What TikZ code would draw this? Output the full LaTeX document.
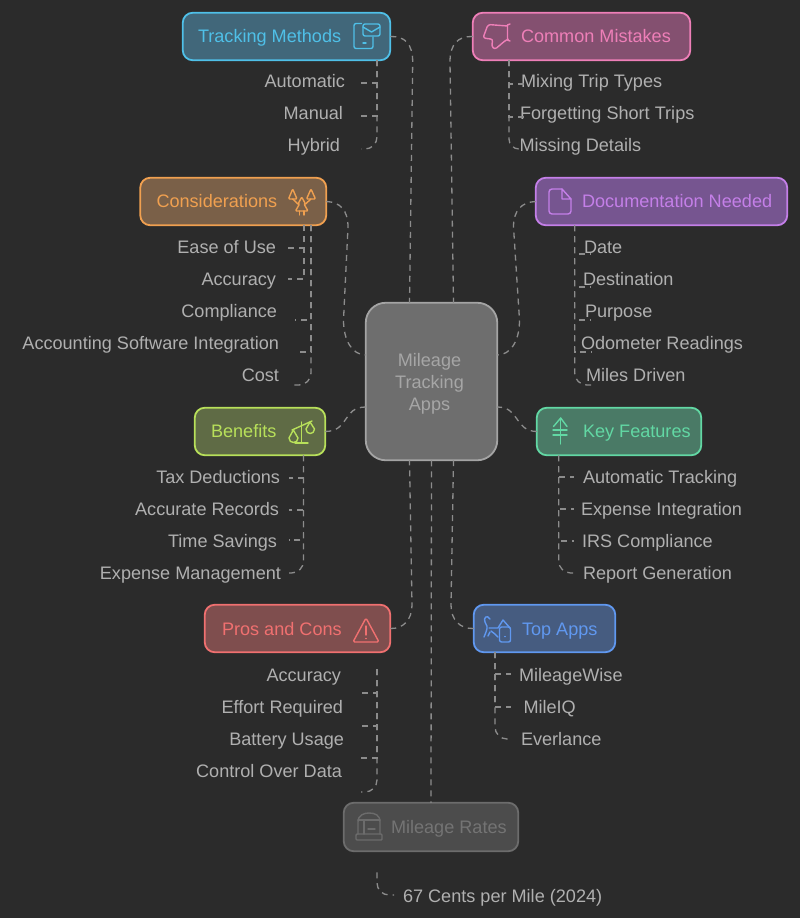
\documentclass[tikz,border=0pt]{standalone}
\usepackage{fontspec}
\setmainfont{Liberation Sans}
\definecolor{bgc}{HTML}{2B2B2B}
\definecolor{kidc}{HTML}{B0B0B0}
\definecolor{connc}{HTML}{8C8C8C}
\definecolor{cTM}{HTML}{4FC0E8}\definecolor{fTM}{HTML}{41677A}
\definecolor{cCO}{HTML}{F0A050}\definecolor{fCO}{HTML}{7A6048}
\definecolor{cCM}{HTML}{EE7FB8}\definecolor{fCM}{HTML}{845070}
\definecolor{cDN}{HTML}{C47FE8}\definecolor{fDN}{HTML}{765590}
\definecolor{cBE}{HTML}{B8E05A}\definecolor{fBE}{HTML}{5F6B45}
\definecolor{cKF}{HTML}{62D8A4}\definecolor{fKF}{HTML}{4A7A66}
\definecolor{cPC}{HTML}{F07070}\definecolor{fPC}{HTML}{7F4E4E}
\definecolor{cTA}{HTML}{6098F0}\definecolor{fTA}{HTML}{465C80}
\definecolor{cMR}{HTML}{6C6C6C}\definecolor{fMR}{HTML}{4C4C4C}
\definecolor{tMR}{HTML}{747474}
\definecolor{cHU}{HTML}{A4A4A4}\definecolor{fHU}{HTML}{6E6E6E}
\definecolor{tHU}{HTML}{A6A6A6}
\tikzset{
  box/.style={inner sep=0pt,outer sep=0pt,rounded corners=10pt,line width=1.8pt},
  txt/.style={inner sep=0pt,outer sep=0pt,text height=13.5pt,text depth=4.5pt,font=\fontsize{18.1}{22}\selectfont},
  kid/.style={txt,text=kidc},
  conn/.style={draw=connc,line width=1.3pt,dash pattern=on 6pt off 5pt},
  icon/.style={line width=1.4pt,line join=round,line cap=round,fill=none},
}
\newcommand{\tie}[7][]{%
  \coordinate (e) at ([shift={(#6pt,#7pt)}]#5);
  \coordinate (s) at ([xshift=#3pt,yshift=#4pt]#2.south);
  \draw[conn,#1] (s) -- (s |- e) -- (e);}
\begin{document}
\begin{tikzpicture}[x=1pt,y=-1pt]
\fill[bgc] (0,0) rectangle (800,918);
\useasboundingbox (0,0) rectangle (800,918);
% boxes
\node[box,draw=cTM,fill=fTM,minimum width=207.5pt,minimum height=47.5pt] (tm) at (286.5,36.5) {};
\node[box,draw=cCO,fill=fCO,minimum width=186pt,minimum height=47.5pt] (co) at (233.25,201.5) {};
\node[box,draw=cCM,fill=fCM,minimum width=217.5pt,minimum height=47.5pt] (cm) at (581.5,36.5) {};
\node[box,draw=cDN,fill=fDN,minimum width=251.5pt,minimum height=47.5pt] (dn) at (661.5,201.5) {};
\node[box,draw=cBE,fill=fBE,minimum width=130.5pt,minimum height=47.5pt] (be) at (260,431.5) {};
\node[box,draw=cKF,fill=fKF,minimum width=164.5pt,minimum height=47.5pt] (kf) at (619,431.5) {};
\node[box,draw=cPC,fill=fPC,minimum width=185.5pt,minimum height=47.5pt] (pc) at (297.5,628.5) {};
\node[box,draw=cTA,fill=fTA,minimum width=141.5pt,minimum height=47.5pt] (ta) at (544.5,628.5) {};
\node[box,draw=cMR,fill=fMR,minimum width=174.5pt,minimum height=48.5pt] (mr) at (431,827) {};
\node[box,draw=cHU,fill=fHU,rounded corners=20pt,minimum width=131.5pt,minimum height=157.5pt] (hub) at (431.5,381.5) {};
\node[align=center,inner sep=0pt,text=tHU,font=\fontsize{18.1}{22}\selectfont] (lhu) at (429.5,384) {Mileage\\Tracking\\Apps};
% box labels
\node[txt,text=cTM,anchor=base west] (ltm) at (198,42.5) {Tracking Methods};
\node[txt,text=cCO,anchor=base west] (lco) at (156.5,207.5) {Considerations};
\node[txt,text=cCM,anchor=base west] (lcm) at (521,42.5) {Common Mistakes};
\node[txt,text=cDN,anchor=base west] (ldn) at (582,207.5) {Documentation Needed};
\node[txt,text=cBE,anchor=base west] (lbe) at (211,437.5) {Benefits};
\node[txt,text=cKF,anchor=base west] (lkf) at (583,437.5) {Key Features};
\node[txt,text=cPC,anchor=base west] (lpc) at (222,635) {Pros and Cons};
\node[txt,text=cTA,anchor=base west] (lta) at (522,635) {Top Apps};
\node[txt,text=tMR,anchor=base west] (lmr) at (391,833.5) {Mileage Rates};
% children
\node[kid,anchor=base east] (a1) at (345,87.5) {Automatic};
\node[kid,anchor=base east] (a2) at (343,119.5) {Manual};
\node[kid,anchor=base east] (a3) at (340,151.5) {Hybrid};
\node[kid,anchor=base east] (b1) at (276,253.5) {Ease of Use};
\node[kid,anchor=base east] (b2) at (276,285.5) {Accuracy};
\node[kid,anchor=base east] (b3) at (277,317.5) {Compliance};
\node[kid,anchor=base east] (b4) at (279,349.5) {Accounting Software Integration};
\node[kid,anchor=base east] (b5) at (279,381.5) {Cost};
\node[kid,anchor=base west] (c1) at (521,87.5) {Mixing Trip Types};
\node[kid,anchor=base west] (c2) at (520,119.5) {Forgetting Short Trips};
\node[kid,anchor=base west] (c3) at (519.5,151.5) {Missing Details};
\node[kid,anchor=base west] (d1) at (584,253.5) {Date};
\node[kid,anchor=base west] (d2) at (583,285.5) {Destination};
\node[kid,anchor=base west] (d3) at (585,317.5) {Purpose};
\node[kid,anchor=base west] (d4) at (581,349.5) {Odometer Readings};
\node[kid,anchor=base west] (d5) at (586,381.5) {Miles Driven};
\node[kid,anchor=base east] (e1) at (280,483) {Tax Deductions};
\node[kid,anchor=base east] (e2) at (279,515) {Accurate Records};
\node[kid,anchor=base east] (e3) at (277,547) {Time Savings};
\node[kid,anchor=base east] (e4) at (281,579) {Expense Management};
\node[kid,anchor=base west] (f1) at (583,483) {Automatic Tracking};
\node[kid,anchor=base west] (f2) at (581,515) {Expense Integration};
\node[kid,anchor=base west] (f3) at (582,547) {IRS Compliance};
\node[kid,anchor=base west] (f4) at (583,579) {Report Generation};
\node[kid,anchor=base east] (g1) at (341,681) {Accuracy};
\node[kid,anchor=base east] (g2) at (343,713) {Effort Required};
\node[kid,anchor=base east] (g3) at (344,745) {Battery Usage};
\node[kid,anchor=base east] (g4) at (342,777) {Control Over Data};
\node[kid,anchor=base west] (h1) at (519,681) {MileageWise};
\node[kid,anchor=base west] (h2) at (523.5,713) {MileIQ};
\node[kid,anchor=base west] (h3) at (521,745) {Everlance};
\node[kid,anchor=base west] (i1) at (403,902.5) {67 Cents per Mile (2024)};
% hub connectors
\draw[conn] (tm.east) .. controls (405,36) and (412.7,44) .. (412.7,62) -- ([xshift=-22pt]hub.north);
\draw[conn] (cm.west) .. controls (458,36) and (450,44) .. (450,62) -- ([xshift=22pt]hub.north);
\draw[conn] (co.east) .. controls (340,202) and (348,210) .. (348,227) -- (343.5,320) .. controls (343.5,340) and (352,355) .. ([yshift=26.5pt]hub.west);
\draw[conn] (dn.west) .. controls (522,202) and (513.5,210) .. (513.5,227) -- (519.5,320) .. controls (519.5,342) and (510,355) .. ([yshift=26.5pt]hub.east);
\draw[conn] (be.east) .. controls (350,431) and (342,407) .. ([yshift=-25.5pt]hub.west);
\draw[conn] (kf.west) .. controls (514,431) and (520,407) .. ([yshift=-25.5pt]hub.east);
\draw[conn] (pc.east) .. controls (403,629) and (412,620) .. (412,605) -- ([xshift=-22pt]hub.south);
\draw[conn] (ta.west) .. controls (460,629) and (451,620) .. (451,605) -- ([xshift=22pt]hub.south);
\draw[conn] (hub.south) -- (mr.north);
% child connectors
\tie{tm}{90.5}{0}{a1.east}{16}{0}
\tie{tm}{90.5}{0}{a2.east}{18}{-1}
\tie[rounded corners=12pt]{tm}{90.5}{0}{a3.east}{21}{-2}
\tie{co}{70.75}{0}{b1.east}{12}{1}
\tie{co}{70.75}{0}{b2.east}{12}{2}
\tie{co}{77.75}{0}{b3.east}{18}{-7}
\tie{co}{77.75}{0}{b4.east}{16}{-7}
\tie[rounded corners=12pt]{co}{77.75}{0}{b5.east}{15}{-8}
\tie{cm}{-72.5}{0}{c1.west}{4}{-1}
\tie{cm}{-72.5}{0}{c2.west}{5}{-2}
\tie[rounded corners=10pt]{cm}{-72.5}{0}{c3.west}{0.5}{-2}
\tie{dn}{-86.8}{0}{d1.west}{7}{-5}
\tie{dn}{-86.8}{0}{d2.west}{8}{-6}
\tie{dn}{-86.8}{0}{d3.west}{6}{-7}
\tie{dn}{-86.8}{0}{d4.west}{10}{-7}
\tie[rounded corners=12pt]{dn}{-86.8}{0}{d5.west}{6}{-8}
\tie{be}{43.5}{0}{e1.east}{9}{0.5}
\tie{be}{43.5}{0}{e2.east}{10}{0.5}
\tie{be}{43.5}{0}{e3.east}{12}{2.5}
\tie[rounded corners=12pt]{be}{43.5}{0}{e4.east}{8}{1.5}
\tie{kf}{-60.3}{0}{f1.west}{-9}{1.5}
\tie{kf}{-60.3}{0}{f2.west}{-7}{1.5}
\tie{kf}{-60.3}{0}{f3.west}{-8}{1.5}
\tie[rounded corners=12pt]{kf}{-60.3}{0}{f4.west}{-9}{1.5}
\tie{pc}{79.5}{-17}{g1.east}{20}{-16.5}
\tie{pc}{79.5}{-17}{g2.east}{18}{-17.5}
\tie{pc}{79.5}{-17}{g3.east}{17}{-17.5}
\tie[rounded corners=12pt]{pc}{79.5}{-17}{g4.east}{19}{-19.5}
\tie{ta}{-49.5}{0}{h1.west}{-8}{2.5}
\tie{ta}{-49.5}{0}{h2.west}{-12.5}{1.5}
\tie[rounded corners=12pt]{ta}{-49.5}{0}{h3.west}{-10}{1.5}
\tie[rounded corners=12pt]{mr}{-54}{-21}{i1.west}{-9}{3}
% icons
\begin{scope}[icon,draw=cTM]
\draw[rounded corners=2pt] (363,24) rectangle (380,36);
\draw (363,27) -- (371.5,32) -- (380,27);
\draw[rounded corners=2pt] (361.5,23.5) -- (354,23.5) -- (354,48.5) -- (373,48.5) -- (373,37);
\draw (363,43) -- (366,43);
\end{scope}
\begin{scope}[icon,draw=cCO]
\draw[rounded corners=1pt] (292.7,189) -- (297,199) -- (288.5,199) -- cycle;
\draw[rounded corners=1pt] (311,189) -- (315.5,199) -- (306.5,199) -- cycle;
\draw (292.7,199) -- (298,204);
\draw (311,199) -- (305.5,204);
\draw[rounded corners=1pt] (301.7,197) -- (305.5,204) -- (304,204) -- (308,211) -- (295.5,211) -- (299.5,204) -- (298,204) -- cycle;
\draw (299.5,211) -- (299.5,215);
\draw (304,211) -- (304,215);
\end{scope}
\begin{scope}[icon,draw=cCM]
\draw (510,24) -- (507.5,25) -- (507.5,40) -- (510,41);
\draw[rounded corners=2.5pt] (507.5,26) -- (488,24.5) -- (483,38) -- (493,39.3) -- (491.5,46) -- (494.7,49.5) -- (506,40) -- (507.5,39.5);
\end{scope}
\begin{scope}[icon,draw=cDN]
\draw[rounded corners=3pt] (562,189) -- (549,189) -- (549,214) -- (571,214) -- (571,199);
\draw (562,189) -- (571,199) -- (562,199) -- cycle;
\end{scope}
\begin{scope}[icon,draw=cBE]
\draw (301.7,422) -- (301.7,443);
\draw (295,443) -- (308,443);
\draw (292,430) -- (312,421);
\draw (293.3,430) -- (289,438) .. controls (289,444) and (298,444) .. (298,438) -- cycle;
\draw (310,422) -- (306,429) .. controls (306,435) and (314.5,435) .. (314.5,429) -- cycle;
\end{scope}
\begin{scope}[icon,draw=cKF]
\draw (560.7,418) -- (560.7,444);
\draw (553.5,426.5) -- (560.7,418) -- (567,426.5);
\draw (553,430) -- (567,430);
\draw (553,435) -- (567,435);
\end{scope}
\begin{scope}[icon,draw=cPC]
\draw[rounded corners=1.5pt] (366,618) -- (379,642) -- (353,642) -- cycle;
\draw (366,626) -- (366,635);
\draw (366,638.5) -- (366,638.6);
\end{scope}
\begin{scope}[icon,draw=cTA]
\draw[rounded corners=2pt] (499.5,627) rectangle (510.5,642);
\draw (505,636.5) -- (505,636.6);
\draw (490,619) .. controls (487,614) and (483,618) .. (485,622) .. controls (487,625) and (488,627) .. (486,632) -- (484,637);
\draw (489,628) -- (498,628) -- (503,620) -- (510,628);
\draw (491,631) .. controls (493,633) and (496,634) .. (498,637);
\draw (490,632) -- (488,636);
\end{scope}
\begin{scope}[icon,draw=cMR]
\draw (358,834) -- (358,822) .. controls (358,815) and (364,813) .. (369,813) .. controls (375,813) and (380,815) .. (380,822) -- (380,834);
\draw (358,820) -- (380,820);
\draw (364,820) -- (364,834);
\draw[rounded corners=1pt] (356,834) rectangle (382,840);
\draw (368,829) -- (375,829);
\end{scope}
\end{tikzpicture}
\end{document}
